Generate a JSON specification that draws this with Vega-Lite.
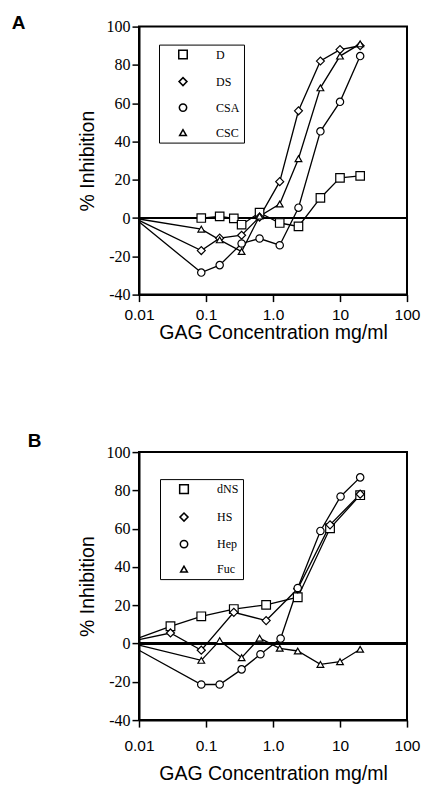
{
  "$schema": "https://vega.github.io/schema/vega-lite/v6.json",
  "padding": {"left": 10, "top": 12.6, "right": 5, "bottom": 0},
  "background": "white",
  "spacing": 87.5,
  "resolve": {"scale": {"shape": "independent", "size": "independent"}, "legend": {"shape": "independent", "size": "independent"}},
  "config": {
    "view": {"stroke": "black", "strokeWidth": 2},
    "axis": {
      "grid": false,
      "domainColor": "black",
      "domainWidth": 2,
      "tickColor": "black",
      "tickWidth": 1.5,
      "tickSize": 7,
      "labelColor": "black",
      "titleColor": "black",
      "titleFont": "Liberation Sans",
      "titleFontSize": 19.5,
      "titleFontWeight": "normal",
      "labelOverlap": false
    },
    "axisX": {"labelFont": "Liberation Sans", "labelFontSize": 15.5, "labelFlush": false},
    "axisY": {"labelFont": "Liberation Serif", "labelFontSize": 16, "labelPadding": 2, "titlePadding": 8.5},
    "legend": {
      "labelFont": "Liberation Serif",
      "labelFontSize": 12,
      "labelColor": "black",
      "labelOffset": 27,
      "symbolOffset": 14,
      "rowPadding": 12,
      "padding": 4,
      "strokeColor": "black"
    }
  },
  "vconcat": [
    {
      "title": {"text": "A", "anchor": "start", "frame": "group", "dx": -127.3, "offset": -29, "baseline": "alphabetic", "fontSize": 19, "fontWeight": "bold", "font": "Liberation Sans", "color": "black"},
      "width": 268,
      "height": 268,
      "data": {"values": [
        {"series": "D", "x": 0.01, "y": 0},
        {"series": "D", "x": 0.085, "y": 0},
        {"series": "D", "x": 0.16, "y": 0.9},
        {"series": "D", "x": 0.26, "y": -0.2},
        {"series": "D", "x": 0.34, "y": -3.5},
        {"series": "D", "x": 0.63, "y": 2.8},
        {"series": "D", "x": 1.26, "y": -2.6},
        {"series": "D", "x": 2.4, "y": -4.4},
        {"series": "D", "x": 5.1, "y": 10.5},
        {"series": "D", "x": 10, "y": 21},
        {"series": "D", "x": 20, "y": 22},
        {"series": "DS", "x": 0.01, "y": -1.2},
        {"series": "DS", "x": 0.085, "y": -17},
        {"series": "DS", "x": 0.16, "y": -10.5},
        {"series": "DS", "x": 0.34, "y": -9},
        {"series": "DS", "x": 0.63, "y": 0.5},
        {"series": "DS", "x": 1.26, "y": 19},
        {"series": "DS", "x": 2.4, "y": 56},
        {"series": "DS", "x": 5.1, "y": 82},
        {"series": "DS", "x": 10, "y": 88},
        {"series": "DS", "x": 20, "y": 90},
        {"series": "CSA", "x": 0.01, "y": -2},
        {"series": "CSA", "x": 0.085, "y": -28.5},
        {"series": "CSA", "x": 0.16, "y": -24.6},
        {"series": "CSA", "x": 0.34, "y": -13.3},
        {"series": "CSA", "x": 0.63, "y": -10.7},
        {"series": "CSA", "x": 1.26, "y": -14.2},
        {"series": "CSA", "x": 2.4, "y": 5.4},
        {"series": "CSA", "x": 5.1, "y": 45.3},
        {"series": "CSA", "x": 10, "y": 60.7},
        {"series": "CSA", "x": 20, "y": 84.6},
        {"series": "CSC", "x": 0.01, "y": -0.5},
        {"series": "CSC", "x": 0.085, "y": -5.8},
        {"series": "CSC", "x": 0.16, "y": -11.4},
        {"series": "CSC", "x": 0.34, "y": -17.5},
        {"series": "CSC", "x": 0.63, "y": 1},
        {"series": "CSC", "x": 1.26, "y": 7.3},
        {"series": "CSC", "x": 2.4, "y": 31},
        {"series": "CSC", "x": 5.1, "y": 68},
        {"series": "CSC", "x": 10, "y": 84.6},
        {"series": "CSC", "x": 20, "y": 91}
      ]},
      "layer": [
        {
          "mark": {"type": "rule", "color": "black", "strokeWidth": 2},
          "encoding": {"y": {"datum": 0, "type": "quantitative", "title": "% Inhibition", "scale": {"domain": [-40, 100], "nice": false},
            "axis": {"values": [-40, -20, 0, 20, 40, 60, 80, 100], "labelExpr": "'' + datum.value"}}}
        },
        {
          "mark": {"type": "line", "color": "black", "strokeWidth": 1.3},
          "encoding": {
            "x": {"field": "x", "type": "quantitative", "title": "GAG Concentration mg/ml",
              "scale": {"type": "log", "domain": [0.01, 100], "nice": false},
              "axis": {"values": [0.01, 0.1, 1, 10, 100], "labelExpr": "datum.value < 0.05 ? '0.01' : datum.value < 0.5 ? '0.1' : datum.value < 5 ? '1.0' : datum.value < 50 ? '10' : '100'", "labelPadding": 5.5, "titlePadding": 1}},
            "y": {"field": "y", "type": "quantitative", "title": "% Inhibition",
              "scale": {"domain": [-40, 100], "nice": false},
              "axis": {"values": [-40, -20, 0, 20, 40, 60, 80, 100], "labelExpr": "'' + datum.value"}},
            "detail": {"field": "series"}
          }
        },
        {
          "transform": [{"filter": "datum.x > 0.011"}],
          "mark": {"type": "point", "filled": true, "fill": "white", "stroke": "black", "strokeWidth": 1.2, "opacity": 1},
          "encoding": {
            "x": {"field": "x", "type": "quantitative", "title": "GAG Concentration mg/ml",
              "scale": {"type": "log", "domain": [0.01, 100], "nice": false},
              "axis": {"values": [0.01, 0.1, 1, 10, 100], "labelExpr": "datum.value < 0.05 ? '0.01' : datum.value < 0.5 ? '0.1' : datum.value < 5 ? '1.0' : datum.value < 50 ? '10' : '100'", "labelPadding": 5.5, "titlePadding": 1}},
            "y": {"field": "y", "type": "quantitative", "title": "% Inhibition",
              "scale": {"domain": [-40, 100], "nice": false},
              "axis": {"values": [-40, -20, 0, 20, 40, 60, 80, 100], "labelExpr": "'' + datum.value"}},
            "size": {"field": "series", "type": "nominal",
              "scale": {"domain": ["D", "DS", "CSA", "CSC"], "range": [72, 45, 85, 60]},
              "legend": {"title": null, "orient": "none", "legendX": 20, "legendY": 18}},
            "shape": {"field": "series", "type": "nominal",
              "scale": {"domain": ["D", "DS", "CSA", "CSC"], "range": ["square", "diamond", "circle", "triangle-up"]},
              "legend": {"title": null, "orient": "none", "legendX": 20, "legendY": 18}
            }
          }
        }
      ]
    },
    {
      "title": {"text": "B", "anchor": "start", "frame": "group", "dx": -111.3, "offset": -22.3, "baseline": "alphabetic", "fontSize": 19, "fontWeight": "bold", "font": "Liberation Sans", "color": "black"},
      "width": 268,
      "height": 268,
      "data": {"values": [
        {"series": "dNS", "x": 0.01, "y": 3},
        {"series": "dNS", "x": 0.0295, "y": 9},
        {"series": "dNS", "x": 0.085, "y": 14.2},
        {"series": "dNS", "x": 0.26, "y": 18},
        {"series": "dNS", "x": 0.79, "y": 20.2},
        {"series": "dNS", "x": 2.34, "y": 24.2},
        {"series": "dNS", "x": 7.1, "y": 60.2},
        {"series": "dNS", "x": 20, "y": 77.5},
        {"series": "HS", "x": 0.01, "y": 2},
        {"series": "HS", "x": 0.0295, "y": 5.5},
        {"series": "HS", "x": 0.085, "y": -3.5},
        {"series": "HS", "x": 0.26, "y": 16.3},
        {"series": "HS", "x": 0.79, "y": 12},
        {"series": "HS", "x": 2.34, "y": 28.6},
        {"series": "HS", "x": 7.1, "y": 62},
        {"series": "HS", "x": 20, "y": 78},
        {"series": "Hep", "x": 0.01, "y": -3.5},
        {"series": "Hep", "x": 0.085, "y": -21.4},
        {"series": "Hep", "x": 0.16, "y": -21.4},
        {"series": "Hep", "x": 0.34, "y": -13.5},
        {"series": "Hep", "x": 0.65, "y": -5.6},
        {"series": "Hep", "x": 1.3, "y": 2.6},
        {"series": "Hep", "x": 2.34, "y": 29},
        {"series": "Hep", "x": 5.1, "y": 58.8},
        {"series": "Hep", "x": 10.2, "y": 76.8},
        {"series": "Hep", "x": 20, "y": 86.8},
        {"series": "Fuc", "x": 0.01, "y": -0.8},
        {"series": "Fuc", "x": 0.085, "y": -8.8},
        {"series": "Fuc", "x": 0.16, "y": 1.5},
        {"series": "Fuc", "x": 0.34, "y": -7.4},
        {"series": "Fuc", "x": 0.63, "y": 2.8},
        {"series": "Fuc", "x": 1.26, "y": -2.5},
        {"series": "Fuc", "x": 2.34, "y": -3.9},
        {"series": "Fuc", "x": 5.1, "y": -10.9},
        {"series": "Fuc", "x": 10, "y": -9.5},
        {"series": "Fuc", "x": 20, "y": -3}
      ]},
      "layer": [
        {
          "mark": {"type": "rule", "color": "black", "strokeWidth": 2},
          "encoding": {"y": {"datum": 0, "type": "quantitative", "title": "% Inhibition", "scale": {"domain": [-40, 100], "nice": false},
            "axis": {"values": [-40, -20, 0, 20, 40, 60, 80, 100], "labelExpr": "'' + datum.value"}}}
        },
        {
          "mark": {"type": "line", "color": "black", "strokeWidth": 1.3},
          "encoding": {
            "x": {"field": "x", "type": "quantitative", "title": "GAG Concentration mg/ml",
              "scale": {"type": "log", "domain": [0.01, 100], "nice": false},
              "axis": {"values": [0.01, 0.1, 1, 10, 100], "labelExpr": "datum.value < 0.05 ? '0.01' : datum.value < 0.5 ? '0.1' : datum.value < 5 ? '1.0' : datum.value < 50 ? '10' : '100'", "labelPadding": 11.5, "titlePadding": 10.4}},
            "y": {"field": "y", "type": "quantitative", "title": "% Inhibition",
              "scale": {"domain": [-40, 100], "nice": false},
              "axis": {"values": [-40, -20, 0, 20, 40, 60, 80, 100], "labelExpr": "'' + datum.value"}},
            "detail": {"field": "series"}
          }
        },
        {
          "transform": [{"filter": "datum.x > 0.011"}],
          "mark": {"type": "point", "filled": true, "fill": "white", "stroke": "black", "strokeWidth": 1.2, "opacity": 1},
          "encoding": {
            "x": {"field": "x", "type": "quantitative", "title": "GAG Concentration mg/ml",
              "scale": {"type": "log", "domain": [0.01, 100], "nice": false},
              "axis": {"values": [0.01, 0.1, 1, 10, 100], "labelExpr": "datum.value < 0.05 ? '0.01' : datum.value < 0.5 ? '0.1' : datum.value < 5 ? '1.0' : datum.value < 50 ? '10' : '100'", "labelPadding": 11.5, "titlePadding": 10.4}},
            "y": {"field": "y", "type": "quantitative", "title": "% Inhibition",
              "scale": {"domain": [-40, 100], "nice": false},
              "axis": {"values": [-40, -20, 0, 20, 40, 60, 80, 100], "labelExpr": "'' + datum.value"}},
            "size": {"field": "series", "type": "nominal",
              "scale": {"domain": ["dNS", "HS", "Hep", "Fuc"], "range": [75, 45, 90, 60]},
              "legend": {"title": null, "orient": "none", "legendX": 21, "legendY": 27}},
            "shape": {"field": "series", "type": "nominal",
              "scale": {"domain": ["dNS", "HS", "Hep", "Fuc"], "range": ["square", "diamond", "circle", "triangle-up"]},
              "legend": {"title": null, "orient": "none", "legendX": 21, "legendY": 27}
            }
          }
        }
      ]
    }
  ]
}
